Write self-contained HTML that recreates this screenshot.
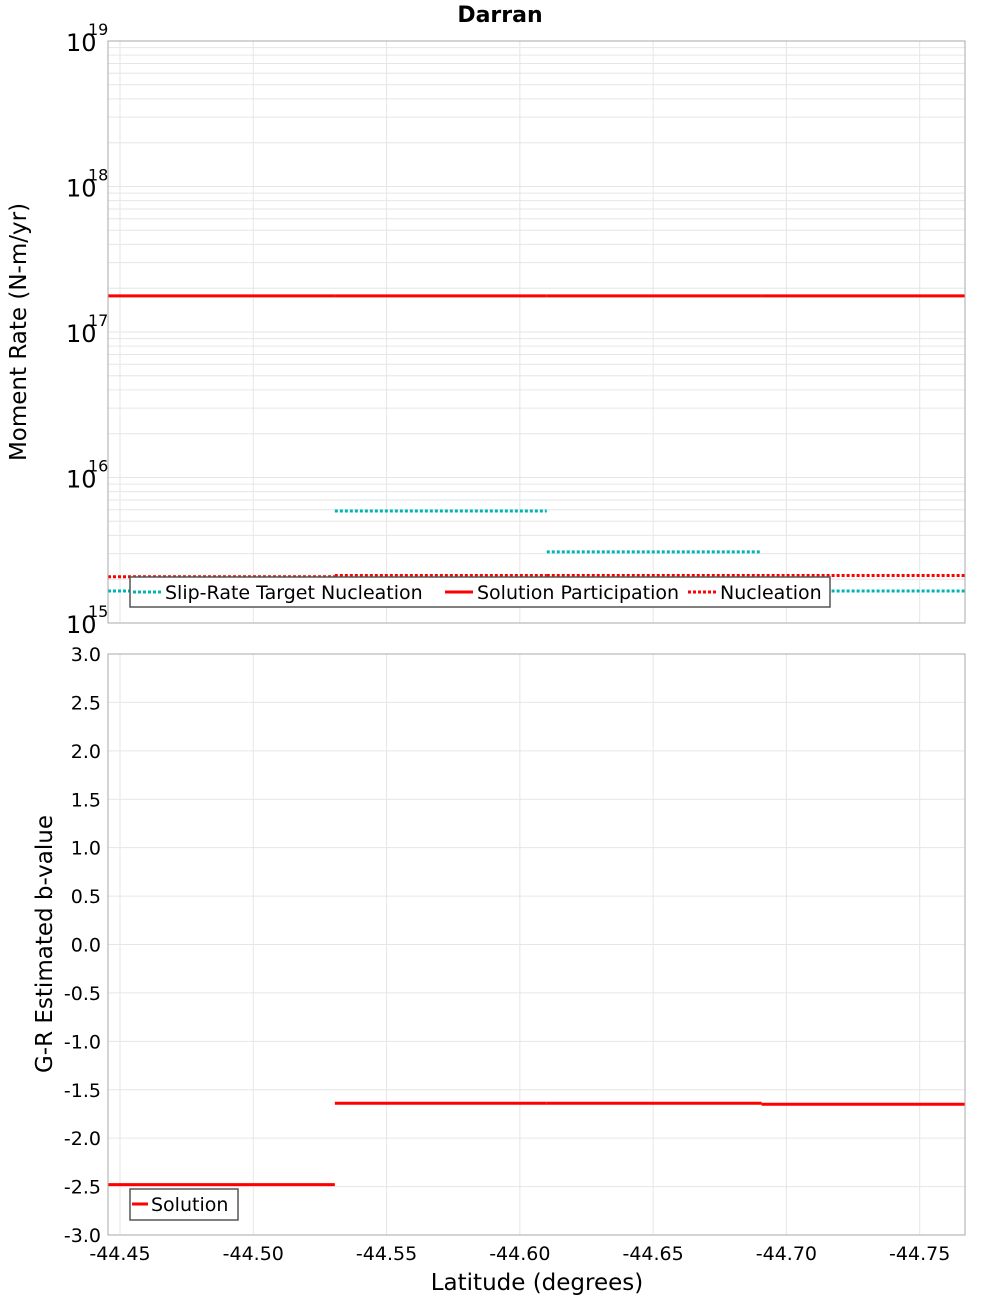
<!DOCTYPE html>
<html><head><meta charset="utf-8"><style>
body{margin:0;background:#fff;font-family:"Liberation Sans","DejaVu Sans",sans-serif}
svg text{font-family:"DejaVu Sans","Liberation Sans",sans-serif}
</style></head><body>
<svg id="chart" width="1000" height="1300" xmlns="http://www.w3.org/2000/svg">
<text x="500" y="22" text-anchor="middle" font-size="22" font-weight="bold">Darran</text>
<g id="topplot"></g><g id="botplot"></g>
</svg>
<script>
const segBounds=[-44.4455,-44.5306,-44.6101,-44.6907,-44.767];
const participation=[1.77e17,1.77e17,1.77e17,1.77e17];
const slipTarget=[1.66e15,5.88e15,3.08e15,1.66e15];
const nucleation=[2.08e15,2.12e15,2.12e15,2.12e15];
const bValues=[-2.48,-1.64,-1.64,-1.65];
const xTicks=[-44.45,-44.50,-44.55,-44.60,-44.65,-44.70,-44.75];
const yBTicks=[-3,-2.5,-2,-1.5,-1,-0.5,0,0.5,1,1.5,2,2.5,3];
const logExps=[15,16,17,18,19];

const NS="http://www.w3.org/2000/svg";
const L=108,R=965;
const X=v=>L+(v-segBounds[0])/(segBounds[4]-segBounds[0])*(R-L);
const T1=41,B1=623,T2=654,B2=1235;
const YT=v=>B1-(Math.log10(v)-15)/4*(B1-T1);
const YB=v=>B2-(v+3)/6*(B2-T2);
function mk(p,tag,a,txt){const e=document.createElementNS(NS,tag);for(const k in a)e.setAttribute(k,a[k]);if(txt!==undefined)e.textContent=txt;p.appendChild(e);return e;}
const topG=document.getElementById('topplot'),botG=document.getElementById('botplot');

mk(topG,'rect',{x:L,y:T1,width:R-L,height:B1-T1,fill:'#fff'});
mk(botG,'rect',{x:L,y:T2,width:R-L,height:B2-T2,fill:'#fff'});
for(let e=15;e<19;e++)for(let m=1;m<10;m++){const y=YT(m*Math.pow(10,e));
 const g=mk(topG,'line',{x1:L,x2:R,y1:y,y2:y,stroke:'#e6e6e6','stroke-width':1});
 
 }
yBTicks.forEach(v=>{const y=YB(v);const g=mk(botG,'line',{x1:L,x2:R,y1:y,y2:y,stroke:'#e6e6e6'});
 
 });
xTicks.forEach(v=>{const x=X(v);[[T1,B1,topG],[T2,B2,botG]].forEach(([a,b,p])=>{const g=mk(p,'line',{x1:x,x2:x,y1:a,y2:b,stroke:'#e6e6e6'});
 
 });
 const t=mk(botG,'text',{x:x,y:1260,'text-anchor':'middle','font-size':19},v.toFixed(2));
 
 });
logExps.forEach(e=>{const y=YT(Math.pow(10,e));
 const t=mk(topG,'text',{x:66,y:y+10,'font-size':24},'10');
 
 
 const s=mk(topG,'text',{x:88,y:y-6,'font-size':16},String(e));
 
 });
yBTicks.forEach(v=>{const t=mk(botG,'text',{x:101,y:YB(v)+7,'text-anchor':'end','font-size':19},v.toFixed(1));
 
 });

function seg(p,arr,Y,style,name){for(let i=0;i<arr.length;i++){const l=mk(p,'line',Object.assign({x1:X(segBounds[i]),x2:X(segBounds[i+1]),y1:Y(arr[i]),y2:Y(arr[i])},style));
 
 }}
seg(topG,nucleation,YT,{stroke:'#f00','stroke-width':3,'stroke-dasharray':'3,2'},'nucleation-segment');
seg(topG,slipTarget,YT,{stroke:'#00b4b4','stroke-width':3,'stroke-dasharray':'3,2'},'slip-rate-target-segment');
seg(topG,participation,YT,{stroke:'#f00','stroke-width':3},'participation-segment');
seg(botG,bValues,YB,{stroke:'#f00','stroke-width':3},'b-value-segment');

mk(topG,'rect',{x:L,y:T1,width:R-L,height:B1-T1,fill:'none',stroke:'#aaa'});
mk(botG,'rect',{x:L,y:T2,width:R-L,height:B2-T2,fill:'none',stroke:'#aaa'});

let lg=mk(topG,'g',{});


mk(lg,'rect',{x:130,y:577,width:700,height:30,fill:'#fff',stroke:'#555','stroke-width':1.5});
[[133,'Slip-Rate Target Nucleation','#00b4b4',true],[445,'Solution Participation','#f00',false],[688,'Nucleation','#f00',true]].forEach(([x,t,c,d])=>{
 const e=mk(lg,'g',{});
 
 
 const a={x1:x,x2:x+28,y1:592,y2:592,stroke:c,'stroke-width':3};if(d)a['stroke-dasharray']='3,2';mk(e,'line',a);
 mk(e,'text',{x:x+32,y:599,'font-size':19},t);});
let lg2=mk(botG,'g',{});


mk(lg2,'rect',{x:130,y:1189,width:108,height:31,fill:'#fff',stroke:'#555','stroke-width':1.5});
mk(lg2,'line',{x1:132,x2:148,y1:1204,y2:1204,stroke:'#f00','stroke-width':3});
mk(lg2,'text',{x:151,y:1211,'font-size':19},'Solution');

let t=mk(topG,'text',{x:0,y:0,'font-size':23,'text-anchor':'middle',transform:'translate(26,332) rotate(-90)'},'Moment Rate (N-m/yr)');


t=mk(botG,'text',{x:0,y:0,'font-size':23,'text-anchor':'middle',transform:'translate(52,944) rotate(-90)'},'G-R Estimated b-value');


t=mk(botG,'text',{x:537,y:1290,'font-size':23,'text-anchor':'middle'},'Latitude (degrees)');


</script>
</body></html>
